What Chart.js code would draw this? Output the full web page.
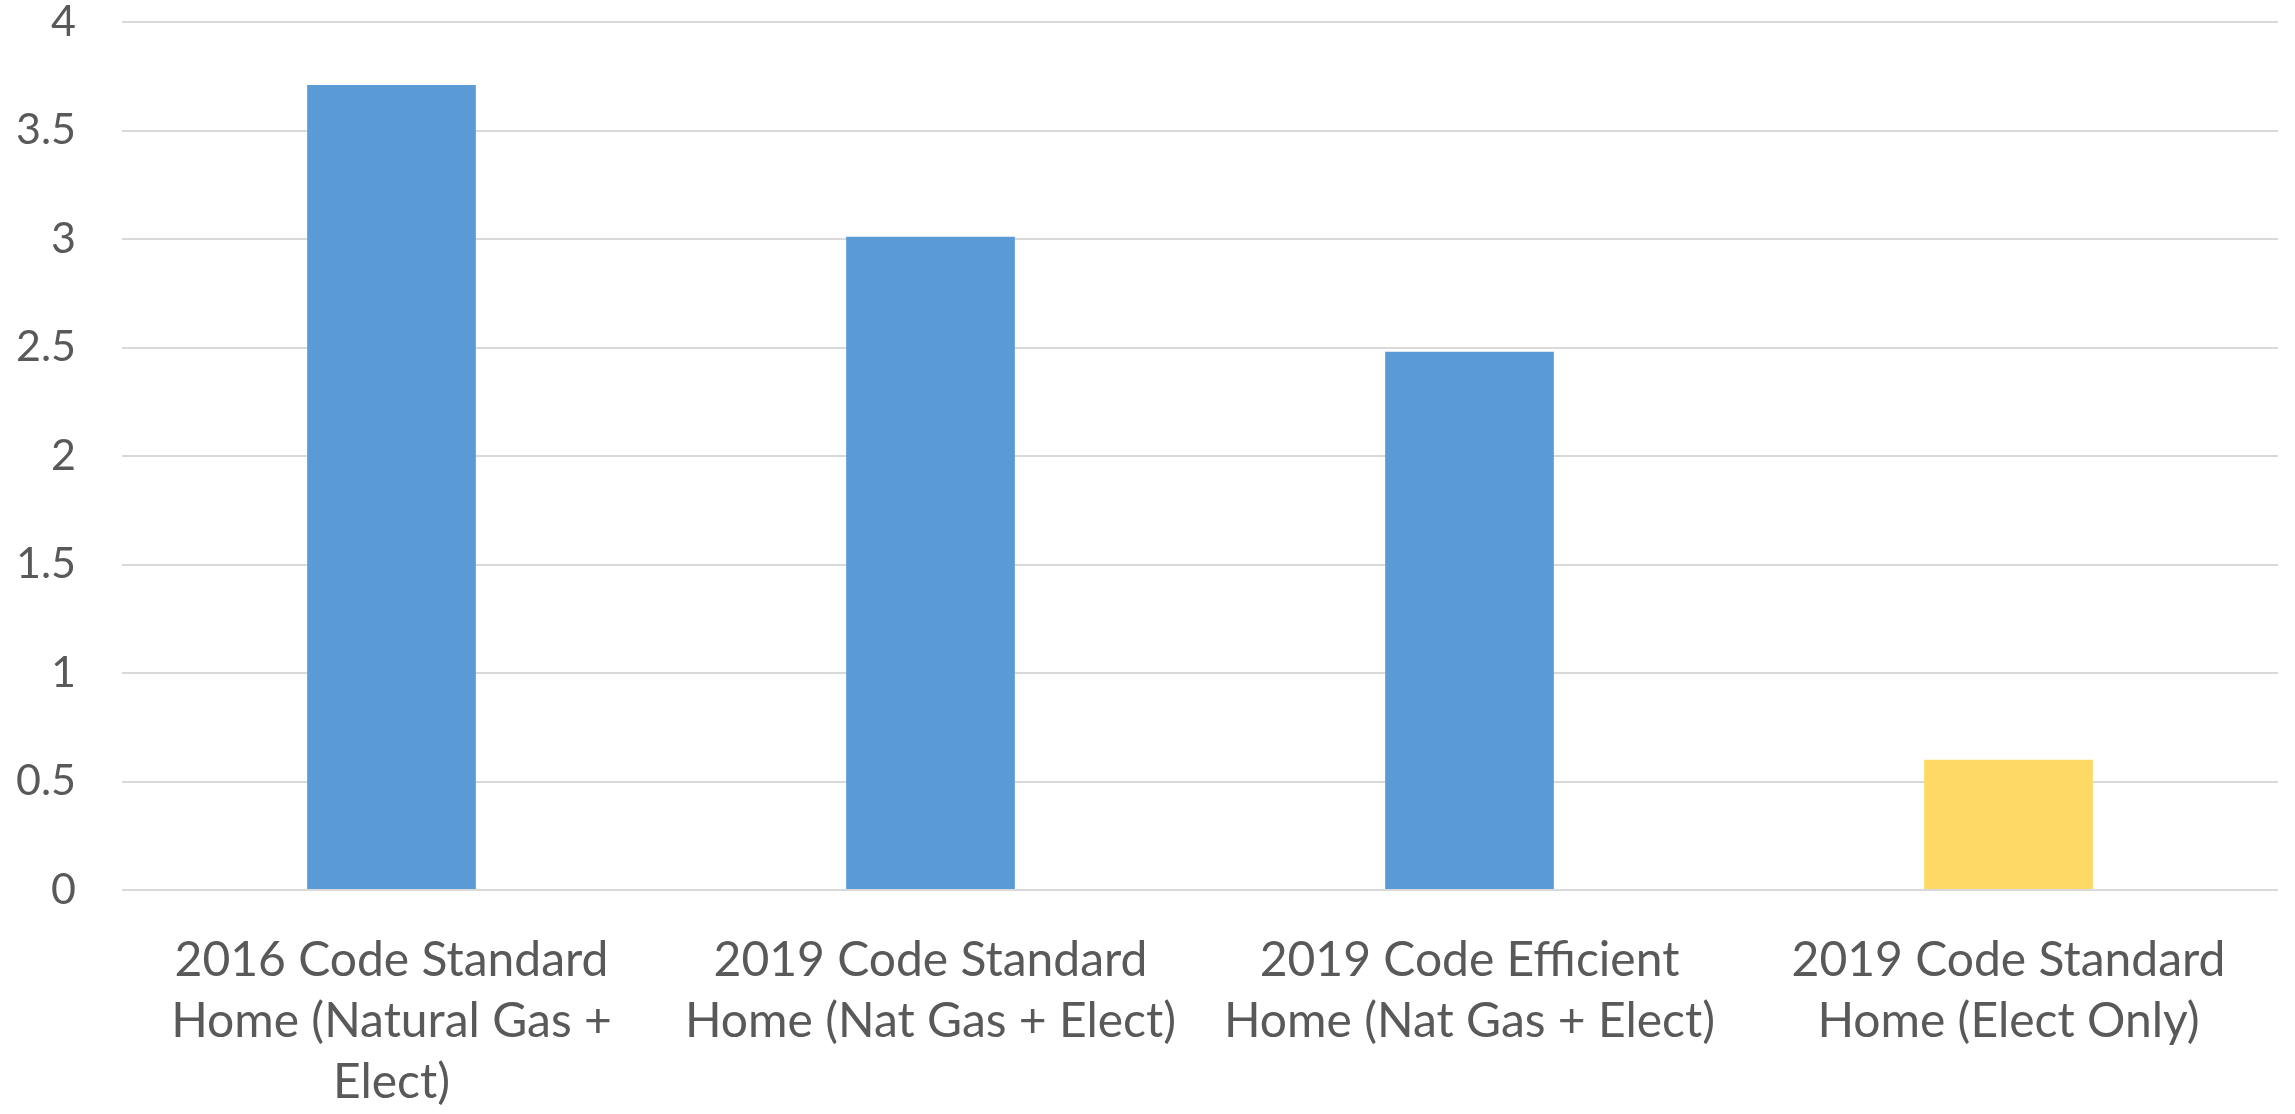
<!DOCTYPE html>
<html>
<head>
<meta charset="utf-8">
<script src="https://cdn.jsdelivr.net/npm/chart.js@4"></script>
<style>
  html, body { margin: 0; padding: 0; background: #ffffff; }
  #wrap { width: 2295px; height: 1114px; }
</style>
</head>
<body>
<div id="wrap"><canvas id="energyChart" width="2295" height="1114"></canvas></div>
<script>
const categories = [
    ['2016 Code Standard', 'Home (Natural Gas +', 'Elect)'],
    ['2019 Code Standard', 'Home (Nat Gas + Elect)'],
    ['2019 Code Efficient', 'Home (Nat Gas + Elect)'],
    ['2019 Code Standard', 'Home (Elect Only)']
];
const values = [3.71, 3.01, 2.48, 0.60];
const barColors = ['#5B9BD5', '#5B9BD5', '#5B9BD5', '#FFD966'];
const yTicks = [0, 0.5, 1, 1.5, 2, 2.5, 3, 3.5, 4];

const textColor = '#595959';
const gridColor = '#D9D9D9';

const ctx = document.getElementById('energyChart').getContext('2d');

new Chart(ctx, {
    type: 'bar',
    data: {
        labels: categories,
        datasets: [{
            data: values,
            backgroundColor: barColors,
            borderWidth: 0,
            categoryPercentage: 1,
            barPercentage: 0.313
        }]
    },
    options: {
        responsive: false,
        animation: false,
        layout: { padding: { top: 22, right: 17, left: 0, bottom: 0 } },
        plugins: {
            legend: { display: false },
            tooltip: { enabled: false }
        },
        scales: {
            x: {
                grid: { display: false, drawTicks: false },
                border: { display: false },
                ticks: {
                    color: textColor,
                    font: { family: 'Lato', size: 48, lineHeight: 1.27 },
                    padding: 40,
                    maxRotation: 0,
                    minRotation: 0,
                    autoSkip: false
                },
                afterFit: (scale) => {
                    scale.height = 224;
                    scale.paddingLeft = 0;
                    scale.paddingRight = 0;
                }
            },
            y: {
                min: 0,
                max: 4,
                afterBuildTicks: (scale) => {
                    scale.ticks = yTicks.map(v => ({ value: v }));
                },
                grid: { color: gridColor, lineWidth: 2, drawTicks: false },
                border: { display: false },
                ticks: {
                    color: textColor,
                    font: { family: 'Lato', size: 43 },
                    padding: 46,
                    callback: (v) => String(v)
                },
                afterFit: (scale) => {
                    scale.width = 122;
                    scale.paddingTop = 0;
                    scale.paddingBottom = 0;
                }
            }
        }
    }
});
</script>
</body>
</html>
